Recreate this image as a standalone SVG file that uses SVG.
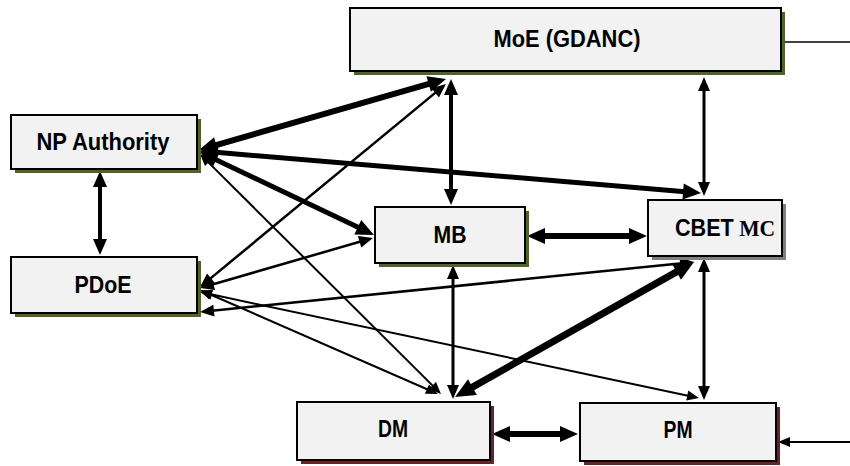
<svg xmlns="http://www.w3.org/2000/svg" width="850" height="466" viewBox="0 0 850 466">
  <style>
    .box { fill: #f2f2f2; stroke: #000; stroke-width: 2; }
    .sh-olive { fill: #4f6228; }
    .sh-maroon { fill: #632523; }
    .sh-gray { fill: #808080; }
    .lbl { font-family: "Liberation Sans", Arial, sans-serif; font-weight: bold; font-size: 24px; fill: #000; text-anchor: middle; }
    .serif { font-family: "Liberation Serif", "Times New Roman", serif; font-weight: bold; }
    .c { fill: none; stroke: #000; stroke-linecap: butt; }
  </style>
  <defs>
    <marker id="hS" markerUnits="userSpaceOnUse" markerWidth="12" markerHeight="10" refX="2" refY="5" orient="auto-start-reverse" overflow="visible">
      <path d="M0,0 L12,5 L0,10 z" fill="#000"/>
    </marker>
    <marker id="hM" markerUnits="userSpaceOnUse" markerWidth="14" markerHeight="12" refX="2" refY="6" orient="auto-start-reverse" overflow="visible">
      <path d="M0,0 L14,6 L0,12 z" fill="#000"/>
    </marker>
    <marker id="hML" markerUnits="userSpaceOnUse" markerWidth="16" markerHeight="14" refX="2" refY="7" orient="auto-start-reverse" overflow="visible">
      <path d="M0,0 L16,7 L0,14 z" fill="#000"/>
    </marker>
    <marker id="hL" markerUnits="userSpaceOnUse" markerWidth="18" markerHeight="16" refX="2" refY="8" orient="auto-start-reverse" overflow="visible">
      <path d="M0,0 L18,8 L0,16 z" fill="#000"/>
    </marker>
    <marker id="hXL" markerUnits="userSpaceOnUse" markerWidth="20" markerHeight="18" refX="2" refY="9" orient="auto-start-reverse" overflow="visible">
      <path d="M0,0 L20,9 L0,18 z" fill="#000"/>
    </marker>
  </defs>

  <!-- connectors -->
  <g id="connectors">
    <!-- NP Authority <-> MoE -->
    <line class="c" x1="214.4" y1="145.6" x2="430.6" y2="83.4" stroke-width="6" marker-start="url(#hL)" marker-end="url(#hL)"/>
    <!-- NP Authority <-> CBET MC -->
    <line class="c" x1="215.9" y1="152.3" x2="685.1" y2="191.7" stroke-width="5" marker-start="url(#hL)" marker-end="url(#hL)"/>
    <!-- NP Authority <-> MB -->
    <line class="c" x1="214.4" y1="158.9" x2="359.6" y2="228.1" stroke-width="5" marker-start="url(#hL)" marker-end="url(#hL)"/>
    <!-- NP Authority <-> DM -->
    <line class="c" x1="207.1" y1="161.1" x2="433.9" y2="386.9" stroke-width="2" marker-start="url(#hS)" marker-end="url(#hS)"/>
    <!-- PDoE <-> MoE -->
    <line class="c" x1="209.3" y1="279.4" x2="436.7" y2="91.6" stroke-width="2.5" marker-start="url(#hM)" marker-end="url(#hM)"/>
    <!-- PDoE <-> MB -->
    <line class="c" x1="211.5" y1="284.7" x2="361.5" y2="241.3" stroke-width="2.5" marker-start="url(#hM)" marker-end="url(#hM)"/>
    <!-- PDoE <-> CBET MC -->
    <line class="c" x1="211.9" y1="310.8" x2="682.1" y2="263.2" stroke-width="2.5" marker-start="url(#hM)" marker-end="url(#hM)"/>
    <!-- PDoE <-> DM -->
    <line class="c" x1="209.2" y1="294" x2="428.8" y2="390" stroke-width="2" marker-start="url(#hS)" marker-end="url(#hS)"/>
    <!-- PDoE <-> PM -->
    <line class="c" x1="209.8" y1="294.1" x2="689.2" y2="395.9" stroke-width="2" marker-start="url(#hS)" marker-end="url(#hS)"/>
    <!-- MB <-> DM -->
    <line class="c" x1="453" y1="277" x2="453" y2="387" stroke-width="3" marker-start="url(#hM)" marker-end="url(#hM)"/>
    <!-- MoE <-> MB -->
    <line class="c" x1="451" y1="93" x2="451" y2="191" stroke-width="4" marker-start="url(#hML)" marker-end="url(#hML)"/>
    <!-- MB <-> CBET MC -->
    <line class="c" x1="543" y1="236" x2="631" y2="236" stroke-width="6" marker-start="url(#hL)" marker-end="url(#hL)"/>
    <!-- CBET MC <-> DM -->
    <line class="c" x1="678.3" y1="270.9" x2="470.7" y2="388.1" stroke-width="7" marker-start="url(#hXL)" marker-end="url(#hXL)"/>
    <!-- CBET MC <-> PM -->
    <line class="c" x1="704" y1="270" x2="704" y2="388" stroke-width="3" marker-start="url(#hM)" marker-end="url(#hM)"/>
    <!-- MoE <-> CBET MC -->
    <line class="c" x1="704" y1="89" x2="704" y2="184" stroke-width="3" marker-start="url(#hM)" marker-end="url(#hM)"/>
    <!-- NP Authority <-> PDoE -->
    <line class="c" x1="100" y1="185" x2="100" y2="241" stroke-width="4" marker-start="url(#hML)" marker-end="url(#hML)"/>
    <!-- DM <-> PM -->
    <line class="c" x1="508" y1="434" x2="562" y2="434" stroke-width="6" marker-start="url(#hL)" marker-end="url(#hL)"/>
    <!-- outgoing / incoming edge lines -->
    <line class="c" x1="781" y1="42" x2="850" y2="42" stroke-width="1.5"/>
    <line class="c" x1="850" y1="442" x2="788" y2="442" stroke-width="2" marker-end="url(#hS)"/>
  </g>

  <g id="moe">
    <rect class="sh-olive" x="354" y="12" width="431" height="63"/>
    <rect class="box" x="350" y="8" width="431" height="63"/>
    <text class="lbl" x="567" y="47" textLength="147" lengthAdjust="spacingAndGlyphs">MoE (GDANC)</text>
  </g>

  <g id="np-authority">
    <rect class="sh-olive" x="15" y="119" width="186" height="54"/>
    <rect class="box" x="11" y="115" width="186" height="54"/>
    <text class="lbl" x="103" y="150" textLength="133" lengthAdjust="spacingAndGlyphs">NP Authority</text>
  </g>

  <g id="pdoe">
    <rect class="sh-olive" x="15" y="261" width="186" height="56"/>
    <rect class="box" x="11" y="257" width="186" height="56"/>
    <text class="lbl" x="103" y="293" textLength="57" lengthAdjust="spacingAndGlyphs">PDoE</text>
  </g>

  <g id="mb">
    <rect class="sh-olive" x="379" y="211" width="150" height="56"/>
    <rect class="box" x="375" y="207" width="150" height="56"/>
    <text class="lbl" x="450" y="243" textLength="33" lengthAdjust="spacingAndGlyphs">MB</text>
  </g>

  <g id="cbet-mc">
    <rect class="sh-gray" x="652" y="204" width="134" height="56"/>
    <rect class="box" x="648" y="200" width="134" height="56"/>
    <text class="lbl" transform="translate(675,236) scale(0.9,1)" x="0" y="0" style="text-anchor:start">CBET<tspan class="serif"> MC</tspan></text>
  </g>

  <g id="dm">
    <rect class="sh-maroon" x="301" y="406" width="193" height="58"/>
    <rect class="box" x="297" y="402" width="193" height="58"/>
    <text class="lbl" x="393" y="437" textLength="30" lengthAdjust="spacingAndGlyphs">DM</text>
  </g>

  <g id="pm">
    <rect class="sh-maroon" x="584" y="407" width="196" height="58"/>
    <rect class="box" x="580" y="403" width="196" height="58"/>
    <text class="lbl" x="678" y="438" textLength="29" lengthAdjust="spacingAndGlyphs">PM</text>
  </g>
</svg>
